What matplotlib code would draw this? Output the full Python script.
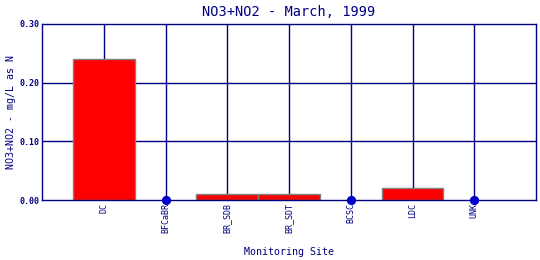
import numpy as np
import matplotlib.pyplot as plt

sites = ['DC', 'BFCaBR', 'BR_SDB', 'BR_SDT', 'BCSC', 'LDC', 'UNK']
values = [0.24, np.nan, 0.01, 0.01, np.nan, 0.02, np.nan]
yticks = [0.00, 0.10, 0.20, 0.30]

navy = '#000080'
plt.rcParams['font.family'] = 'DejaVu Sans Mono'

fig = plt.figure(figsize=(5.4, 2.6), dpi=100)
ax = fig.add_axes([42 / 540, 60 / 260, 494 / 540, 176 / 260])

x = np.arange(len(sites))
vals = np.array(values, dtype=float)
has = ~np.isnan(vals)

# grid lines behind the bars
for xi in x:
    ax.axvline(xi, color=navy, lw=1, zorder=0)
for yv in yticks[1:-1]:
    ax.axhline(yv, color=navy, lw=1, zorder=0)

ax.bar(x[has], vals[has], width=1.0, color='red', edgecolor='gray', lw=1, zorder=2)
# sites with no data get a dot on the baseline
ax.scatter(x[~has], np.zeros((~has).sum()), s=32, color='#0000cc', zorder=3, clip_on=False)

ax.set_xlim(-1, 7)
ax.set_ylim(0, 0.30)
ax.set_xticks(x)
ax.set_xticklabels(sites, rotation=90, fontsize=6, color=navy)
ax.set_yticks(yticks)
ax.set_yticklabels(['%.2f' % v for v in yticks], fontsize=6, color=navy, fontweight='bold')
ax.tick_params(length=0, pad=2)
for s in ax.spines.values():
    s.set_color(navy)
    s.set_linewidth(1)

ax.set_xlabel('Monitoring Site', fontsize=7.2, color=navy, labelpad=10)
ax.set_ylabel('NO3+NO2 - mg/L as N', fontsize=7.2, color=navy, labelpad=2)
ax.set_title('NO3+NO2 - March, 1999', fontsize=9.8, color=navy, pad=6)

fig.savefig('out.png', dpi=100)
